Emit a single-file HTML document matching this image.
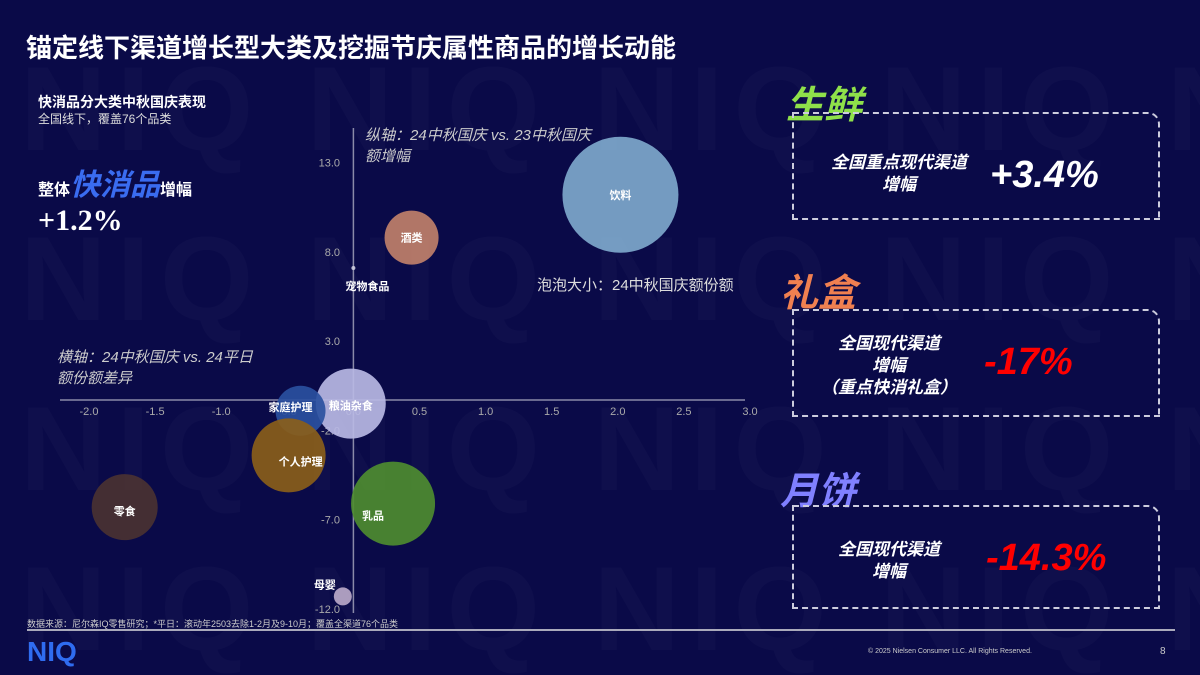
<!DOCTYPE html>
<html style="overflow:hidden;height:675px"><head><meta charset="utf-8"><style>
body{margin:0;width:1200px;height:675px;overflow:hidden;background:#0a0a48;font-family:"Liberation Sans","Noto Sans CJK SC",sans-serif;color:#fff;position:relative}
.abs{position:absolute}
.wm{position:absolute;font-weight:bold;font-size:120px;color:rgba(255,255,255,0.025);letter-spacing:10px;white-space:nowrap}
.box{position:absolute;border:2px dashed #ccd;border-radius:0 12px 0 0}
.big{font-style:italic;font-weight:bold}
</style></head><body>
<div class="wm" style="left:20px;top:40px">NIQ NIQ NIQ NIQ NIQ</div>
<div class="wm" style="left:20px;top:210px">NIQ NIQ NIQ NIQ NIQ</div>
<div class="wm" style="left:20px;top:380px">NIQ NIQ NIQ NIQ NIQ</div>
<div class="wm" style="left:20px;top:540px">NIQ NIQ NIQ NIQ NIQ</div>
<div class="abs" style="left:26px;top:28px;font-size:26px;font-weight:bold">锚定线下渠道增长型大类及挖掘节庆属性商品的增长动能</div>
<div class="abs" style="left:38px;top:92px;font-size:14px;font-weight:bold">快消品分大类中秋国庆表现</div>
<div class="abs" style="left:38px;top:110px;font-size:12px;color:#ddd">全国线下，覆盖76个品类</div>
<div class="abs" style="left:38px;top:160px;font-size:16px;font-weight:bold">整体<span style="font-size:30px;color:#3a6cf0;font-style:italic">快消品</span>增幅</div>
<div class="abs" style="left:38px;top:204px;font-size:30px;font-weight:bold;font-family:'Liberation Serif',serif">+1.2%</div>

<svg class="abs" style="left:0;top:0" width="1200" height="675" id="chart"></svg>

<div class="abs" style="left:786px;top:74px;font-size:38px;color:#8fe04a;font-style:italic;font-weight:bold">生鲜</div>
<div class="box" style="left:792px;top:112px;width:364px;height:104px">
 <div class="abs big" style="left:20px;top:38px;width:170px;text-align:center;font-size:17px;line-height:22px">全国重点现代渠道<br>增幅</div>
 <div class="abs big" style="left:196px;top:40px;font-size:38px">+3.4%</div>
</div>
<div class="abs" style="left:780px;top:262px;font-size:38px;color:#f08050;font-style:italic;font-weight:bold">礼盒</div>
<div class="box" style="left:792px;top:309px;width:364px;height:104px">
 <div class="abs big" style="left:10px;top:22px;width:170px;text-align:center;font-size:17px;line-height:22px">全国现代渠道<br>增幅<br>（重点快消礼盒）</div>
 <div class="abs big" style="left:190px;top:30px;font-size:38px;color:#f00">-17%</div>
</div>
<div class="abs" style="left:780px;top:460px;font-size:38px;color:#8080ff;font-style:italic;font-weight:bold">月饼</div>
<div class="box" style="left:792px;top:505px;width:364px;height:100px">
 <div class="abs big" style="left:10px;top:32px;width:170px;text-align:center;font-size:17px;line-height:22px">全国现代渠道<br>增幅</div>
 <div class="abs big" style="left:192px;top:30px;font-size:38px;color:#f00">-14.3%</div>
</div>

<div class="abs" style="left:27px;top:617px;font-size:9px;color:#ccc">数据来源：尼尔森IQ零售研究；*平日：滚动年2503去除1-2月及9-10月；覆盖全渠道76个品类</div>
<div class="abs" style="left:27px;top:629px;width:1148px;height:2px;background:#aab"></div>
<div class="abs" style="left:27px;top:636px;font-size:28px;font-weight:bold;color:#2f6cf0">NIQ</div>
<div class="abs" style="left:868px;top:648px;font-size:7px;color:#ccc">© 2025 Nielsen Consumer LLC. All Rights Reserved.</div>
<div class="abs" style="left:1160px;top:646px;font-size:10px;color:#ccc">8</div>

<script>
const categories=["饮料","酒类","宠物食品","粮油杂食","家庭护理","个人护理","乳品","零食","母婴"];
const xValues=[2.02,0.44,0.0,-0.02,-0.4,-0.49,0.3,-1.73,-0.08];
const yValues=[11.2,8.8,7.1,-0.5,-0.9,-3.4,-6.1,-6.3,-11.3];
const sizes=[58,27,2,35,25,37,42,33,9];
const colors=["#7ea8cc","#c0806a","#ccccdd","#b8b8e4","#2a50a0","#8a5e1a","#4e8c30","#4a3232","#b8a8c8"];
const xTicks=[-2.0,-1.5,-1.0,-0.5,0.0,0.5,1.0,1.5,2.0,2.5,3.0];
const yTicks=[13.0,8.0,3.0,-2.0,-7.0,-12.0];
const X=v=>353.4+v*132.2, Y=v=>394.7-v*17.85;
const svg=document.getElementById('chart'),NS='http://www.w3.org/2000/svg';
function mk(t,a,txt){const e=document.createElementNS(NS,t);for(const k in a)e.setAttribute(k,a[k]);if(txt!=null)e.textContent=txt;svg.appendChild(e);return e;}
let l=mk('line',{x1:60,x2:745,y1:Y(-0.3),y2:Y(-0.3),stroke:'#8a8aa8','stroke-width':1.5});

l=mk('line',{x1:X(0),x2:X(0),y1:128,y2:613,stroke:'#8a8aa8','stroke-width':1.5});

xTicks.forEach(v=>{const t=mk('text',{x:X(v),y:415,'text-anchor':'middle','font-size':11,fill:'#aaa'},v.toFixed(1));
});
yTicks.forEach(v=>{const t=mk('text',{x:340,y:Y(v)+4,'text-anchor':'end','font-size':11,fill:'#aaa'},v.toFixed(1));
});
categories.forEach((c,i)=>{
 const b=mk('circle',{cx:X(xValues[i]),cy:Y(yValues[i]),r:sizes[i],fill:colors[i],'fill-opacity':0.92});
 
});
const lblOff=[[0,4],[0,4],[14,22],[0,6],[-10,0],[12,10],[-20,16],[0,8],[-18,-8]];
categories.forEach((c,i)=>{
 const t=mk('text',{x:X(xValues[i])+lblOff[i][0],y:Y(yValues[i])+lblOff[i][1],'text-anchor':'middle','font-size':11,'font-weight':'bold',fill:'#fff'},c);
 
});
[['纵轴：24中秋国庆 vs. 23中秋国庆',365,140],['额增幅',365,161],['横轴：24中秋国庆 vs. 24平日',57,362],['额份额差异',57,383]].forEach(a=>{
 const t=mk('text',{x:a[1],y:a[2],'font-size':15,'font-style':'italic',fill:'#ccc'},a[0]);
 });
const t=mk('text',{x:537,y:290,'font-size':15,fill:'#ddd'},'泡泡大小：24中秋国庆额份额');

</script>
</body></html>
